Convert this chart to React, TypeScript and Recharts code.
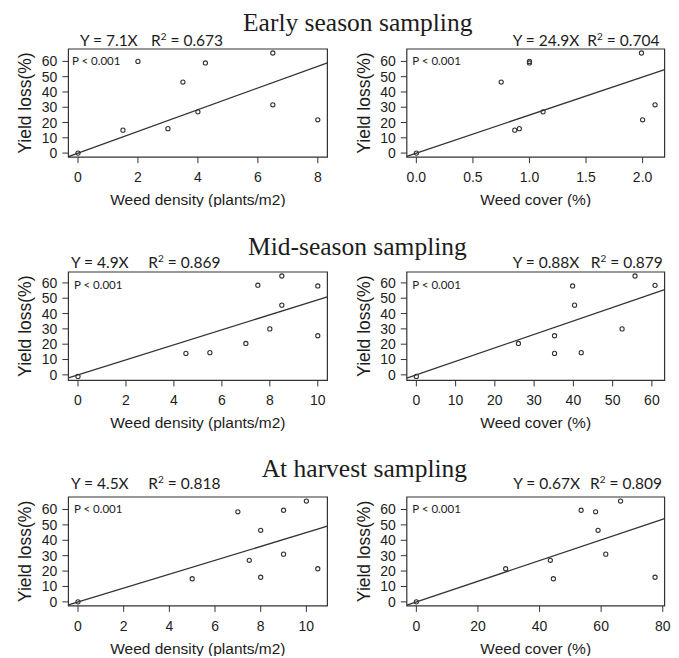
import React from 'react'
import {
  ScatterChart,
  Scatter,
  XAxis,
  YAxis,
  ReferenceArea,
  ReferenceLine
} from 'recharts'

// early season
const earlyDensity = [0, 1.5, 2, 3, 3.5, 4, 4.25, 6.5, 6.5, 8]
const earlyDensityLoss = [0, 15, 60, 16, 46.5, 27, 59, 65.5, 31.6, 21.8]
const earlyCover = [0, 0.75, 0.87, 0.91, 1.0, 1.0, 1.12, 1.99, 2.0, 2.11]
const earlyCoverLoss = [0, 46.5, 15, 16, 60, 59, 27, 65.5, 21.8, 31.6]

// mid season
const midDensity = [0, 4.5, 5.5, 7, 7.5, 8, 8.5, 8.5, 10, 10]
const midDensityLoss = [-1, 14, 14.5, 20.5, 58.5, 30, 64.5, 45.5, 58, 25.5]
const midCover = [0, 26, 35.2, 35.2, 39.8, 40.3, 42, 52.4, 55.7, 60.8]
const midCoverLoss = [-1, 20.5, 14, 25.5, 58, 45.5, 14.5, 30, 64.5, 58.4]

// at harvest
const harvestDensity = [0, 5, 7, 7.5, 8, 8, 9, 9, 10, 10.5]
const harvestDensityLoss = [0, 15, 58.5, 27, 46.5, 16, 59.5, 31, 65.5, 21.5]
const harvestCover = [0, 29, 43.5, 44.5, 53.5, 58.2, 59, 61.5, 66.3, 77.5]
const harvestCoverLoss = [0, 21.5, 27, 15, 59.5, 58.5, 46.5, 31, 65.5, 16]

const slopes = [7.1, 24.9, 4.9, 0.88, 4.5, 0.67]
const slopeLabels = ['7.1', '24.9', '4.9', '0.88', '4.5', '0.67']
const r2Labels = ['0.673', '0.704', '0.869', '0.879', '0.818', '0.809']

const titles = ['Early season sampling', 'Mid-season sampling', 'At harvest sampling']
const xTitles = ['Weed density (plants/m2)', 'Weed cover (%)']
const yTitle = 'Yield loss(%)'
const pLabel = 'P < 0.001'

const yTicks = [0, 10, 20, 30, 40, 50, 60]
const xTicksList = [
  [0, 2, 4, 6, 8],
  [0, 0.5, 1, 1.5, 2],
  [0, 2, 4, 6, 8, 10],
  [0, 10, 20, 30, 40, 50, 60],
  [0, 2, 4, 6, 8, 10],
  [0, 20, 40, 60, 80]
]

const panelData = [
  [earlyDensity, earlyDensityLoss],
  [earlyCover, earlyCoverLoss],
  [midDensity, midDensityLoss],
  [midCover, midCoverLoss],
  [harvestDensity, harvestDensityLoss],
  [harvestCover, harvestCoverLoss]
]

// layout
const COLS = [
  { left: 0, width: 340, plotLeft: 68.4, plotRight: 327.4 },
  { left: 340, width: 339, plotLeft: 406.8, plotRight: 664.6 }
]
const ROWS = [
  { plotTop: 48.6, plotBottom: 156.7, eqBase: 46, titleBase: 30.5, titleX: 243 },
  { plotTop: 272.4, plotBottom: 380.8, eqBase: 267.5, titleBase: 254.5, titleX: 248 },
  { plotTop: 496.8, plotBottom: 605.7, eqBase: 489.3, titleBase: 476.5, titleX: 261.7 }
]
const EQ_POS = [
  [80, 151],
  [512.7, 587.3],
  [71, 148.3],
  [512.7, 590.7],
  [71, 148.3],
  [513.3, 590]
]

const INK = '#1c1c1c'
const LINE = '#333'

// R style axis limits: range stretched by 4% each side
const rLimits = (vals: number[]): [number, number] => {
  const lo = Math.min(...vals)
  const hi = Math.max(...vals)
  const d = (hi - lo) * 0.04
  return [lo - d, hi + d]
}

const OpenDot = (props: any) => {
  const { cx, cy } = props
  if (cx == null || cy == null) return null
  return <circle cx={cx} cy={cy} r={2.1} fill="none" stroke={LINE} strokeWidth={1.1} />
}

function Panel({ index }: { index: number }) {
  const row = ROWS[Math.floor(index / 2)]
  const col = COLS[index % 2]
  const [xs, ys] = panelData[index]
  const data = xs.map((x, i) => ({ x, y: ys[i] }))
  const [xMin, xMax] = rLimits(xs)
  const [yMin, yMax] = rLimits(ys)
  const slope = slopes[index]
  const plotH = row.plotBottom - row.plotTop
  const topPad = 4
  const axisH = 50
  const yAxisW = col.plotLeft - col.left
  const fmt = index === 1 ? (v: number) => v.toFixed(1) : (v: number) => String(v)

  return (
    <div style={{ position: 'absolute', left: col.left, top: row.plotTop - topPad }}>
      <ScatterChart
        width={col.width}
        height={topPad + plotH + axisH}
        margin={{ top: topPad, right: col.left + col.width - col.plotRight, bottom: 0, left: 0 }}
      >
        <XAxis
          type="number"
          dataKey="x"
          domain={[xMin, xMax]}
          allowDataOverflow
          ticks={xTicksList[index]}
          interval={0}
          tickFormatter={fmt}
          axisLine={false}
          tickLine={{ stroke: LINE }}
          tickSize={6}
          tickMargin={9}
          tick={{ fontSize: 14, fill: INK }}
          height={axisH}
          label={{
            value: xTitles[index % 2],
            position: 'insideBottom',
            offset: 2,
            fontSize: 15.5,
            fill: INK
          }}
        />
        <YAxis
          type="number"
          dataKey="y"
          domain={[yMin, yMax]}
          allowDataOverflow
          ticks={yTicks}
          interval={0}
          axisLine={false}
          tickLine={{ stroke: LINE }}
          tickSize={6}
          tickMargin={5}
          tick={{ fontSize: 14, fill: INK }}
          width={yAxisW}
          label={{
            value: yTitle,
            angle: -90,
            position: 'insideLeft',
            offset: index % 2 === 0 ? 25 : 23.5,
            fontSize: 17.5,
            fill: INK,
            style: { textAnchor: 'middle' }
          }}
        />
        <ReferenceArea
          x1={xMin}
          x2={xMax}
          y1={yMin}
          y2={yMax}
          fill="none"
          stroke={LINE}
          strokeWidth={1.2}
          ifOverflow="visible"
        />
        <ReferenceLine
          segment={[
            { x: xMin, y: slope * xMin },
            { x: xMax, y: slope * xMax }
          ]}
          stroke={LINE}
          strokeWidth={1.3}
          ifOverflow="visible"
        />
        <Scatter data={data} shape={OpenDot} isAnimationActive={false} />
      </ScatterChart>
    </div>
  )
}

export default function App() {
  return (
    <div
      style={{
        position: 'absolute',
        left: 0,
        top: 0,
        width: 679,
        height: 658,
        background: '#fff',
        fontFamily: '"Liberation Sans", Arial, sans-serif'
      }}
    >
      {[0, 1, 2, 3, 4, 5].map((i) => (
        <Panel key={i} index={i} />
      ))}
      <svg
        width={679}
        height={658}
        style={{ position: 'absolute', left: 0, top: 0, pointerEvents: 'none' }}
      >
        {ROWS.map((row, r) => (
          <text
            key={`t${r}`}
            x={row.titleX}
            y={row.titleBase}
            fontFamily='"Liberation Serif", "Times New Roman", serif'
            fontSize={25.5}
            fill={INK}
          >
            {titles[r]}
          </text>
        ))}
        {slopes.map((_, i) => {
          const row = ROWS[Math.floor(i / 2)]
          const col = COLS[i % 2]
          const [eqX, rX] = EQ_POS[i]
          return (
            <g key={`e${i}`} fontFamily="Lato, 'Open Sans', sans-serif" fill={INK}>
              <text x={eqX} y={row.eqBase} fontSize={15.5}>
                {`Y = ${slopeLabels[i]}X`}
              </text>
              <text x={rX} y={row.eqBase} fontSize={15.5}>
                R
                <tspan dy={-6} fontSize={10}>2</tspan>
                <tspan dy={6}>{` = ${r2Labels[i]}`}</tspan>
              </text>
              <text
                x={col.plotLeft + (i === 0 ? 3.5 : 5.5)}
                y={row.plotTop + 16.3}
                fontSize={11.5}
              >
                {pLabel}
              </text>
            </g>
          )
        })}
      </svg>
    </div>
  )
}
